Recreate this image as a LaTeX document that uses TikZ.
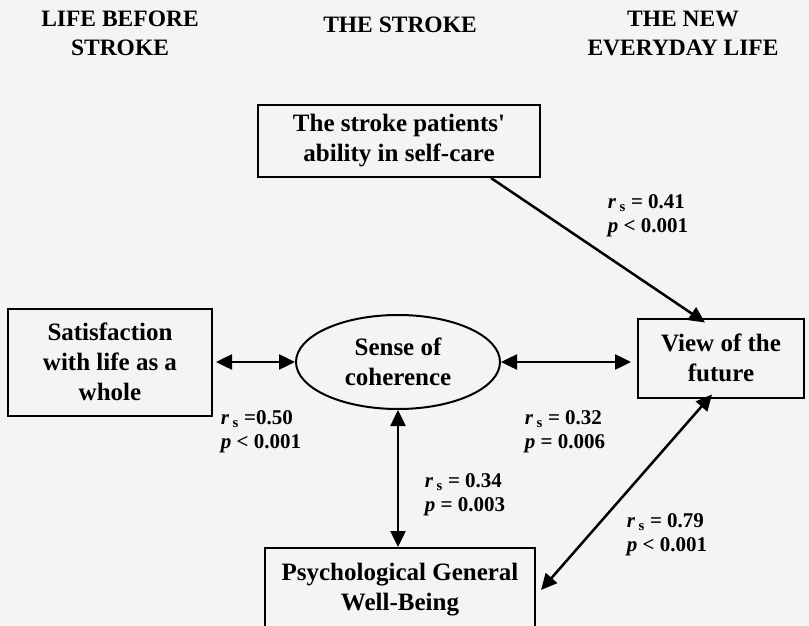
\documentclass[tikz,border=0pt]{standalone}
\usepackage{fontspec}
\setmainfont{Liberation Serif}
\usetikzlibrary{shapes.geometric, arrows.meta, positioning}

\definecolor{paper}{RGB}{244,244,242}
\newcommand{\rs}[1]{{\itshape r}\,\textsubscript{s}#1}

\begin{document}
\begin{tikzpicture}[
    x=1pt, y=-1pt,
    font=\bfseries\fontsize{25}{30}\selectfont,
    head/.style = {align=center, font=\bfseries\fontsize{23.5}{29}\selectfont},
    box/.style = {
        rectangle, draw=black, fill=paper, line width=2pt,
        align=center, inner sep=0pt
    },
    blob/.style = {
        ellipse, draw=black, fill=paper, line width=2pt,
        align=center, minimum width=204pt, minimum height=94pt, inner sep=0pt
    },
    stat/.style = {align=left, font=\bfseries\fontsize{21}{24}\selectfont},
    arr/.style = {{Triangle[length=16pt, width=15pt]}-{Triangle[length=16pt, width=15pt]}, line width=2.5pt},
    arrone/.style = {-{Triangle[length=16pt, width=15pt]}, line width=2.5pt},
]
\useasboundingbox (0,0) rectangle (809,626);
\fill[paper] (0,0) rectangle (809,626);
\clip (0,0) rectangle (809,626);

% Column headings
\node[head] (hbefore) at (120,33) {LIFE BEFORE\\STROKE};
\node[head] (hstroke) at (400,25) {THE STROKE};
\node[head] (hnew) at (683,33) {THE NEW\\EVERYDAY LIFE};

% Boxes
\node[box, minimum width=282pt, minimum height=72pt] (selfcare) at (399,141)
    {The stroke patients\textquotesingle\\ability in self-care};
\node[blob] (coherence) at (398,362) {Sense of\\coherence};
\node[box, minimum width=204pt, minimum height=107pt] (satisfaction) at (110,362)
    {Satisfaction\\with life as a\\whole};
\node[box, minimum width=166pt, minimum height=79pt] (future) at (721,358)
    {View of the\\future};
\node[box, minimum width=270pt, minimum height=84pt] (wellbeing) at (400,590)
    {Psychological General\\Well-Being};

% Correlations
\node[stat] (s41) at (648,216) {\rs{ = 0.41}\\{\itshape p} < 0.001};
\node[stat] (s50) at (261,432) {\rs{ =0.50}\\{\itshape p} < 0.001};
\node[stat] (s32) at (565,432) {\rs{ = 0.32}\\{\itshape p} = 0.006};
\node[stat] (s34) at (465,495) {\rs{ = 0.34}\\{\itshape p} = 0.003};
\node[stat] (s79) at (667,535) {\rs{ = 0.79}\\{\itshape p} < 0.001};

% Arrows
\draw[arrone] ([xshift=-50pt]selfcare.south east) -- ([xshift=-16pt, yshift=-5pt]future.north);
\draw[arr] ([xshift=3pt]satisfaction.east) -- (coherence.west);
\draw[arr] (coherence.east) -- ([xshift=-6pt]coherence.east -| future.west);
\draw[arr] (coherence.south) -- (coherence.south |- wellbeing.north);
\draw[arr] ([xshift=-9pt, yshift=4pt]future.south) -- ([xshift=5pt]wellbeing.east);

\end{tikzpicture}
\end{document}
